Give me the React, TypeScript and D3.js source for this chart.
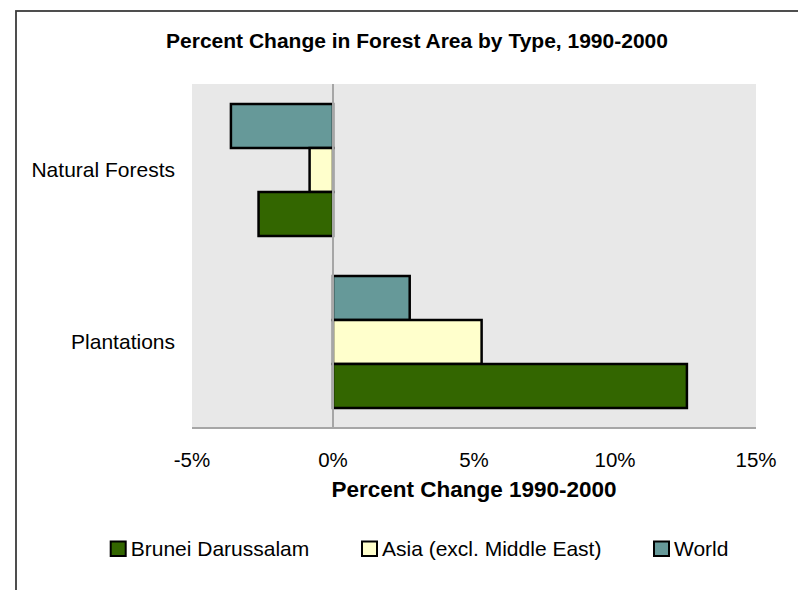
import React from "react";
import { scaleBand, scaleLinear } from "d3";

// Datos del gráfico
const categories = ["Natural Forests", "Plantations"];
const seriesNames = ["Brunei Darussalam", "Asia (excl. Middle East)", "World"];
const seriesColors = ["#336600", "#FFFFCC", "#669999"];
const bruneiValues = [-2.64, 12.55];
const asiaValues = [-0.83, 5.27];
const worldValues = [-3.62, 2.72];
const tickValues = [-5, 0, 5, 10, 15];

const seriesValues = [bruneiValues, asiaValues, worldValues];

const W = 798;
const H = 590;
const plot = { left: 192, right: 756, top: 84, bottom: 428 };
const font = "Arial, 'Liberation Sans', sans-serif";

const App: React.FC = () => {
  // Escalas
  const xScale = scaleLinear<number>().domain([-5, 15]).range([plot.left, plot.right]);

  const gap = 40 / 172;
  const yScale = scaleBand<string>()
    .domain(categories)
    .range([plot.top, plot.bottom])
    .paddingInner(gap)
    .paddingOuter(gap / 2);

  // World arriba, Brunei abajo
  const drawOrder = [2, 1, 0];
  const inner = scaleBand<number>()
    .domain(drawOrder)
    .range([0, yScale.bandwidth()]);

  const x0 = xScale(0);
  const legendX = [110.7, 362, 654];

  return (
    <svg
      width={W}
      height={H}
      style={{ position: "absolute", left: 0, top: 0, display: "block" }}
      fontFamily={font}
    >
      <rect x={0} y={0} width={W} height={H} fill="#fff" />
      {/* Borde del gráfico */}
      <rect x={16} y={11} width={820} height={620} fill="none" stroke="#3c3c3c" strokeWidth={1.8} />

      {/* Título */}
      <text x={417} y={48} textAnchor="middle" fontWeight="bold" fontSize={21}>
        Percent Change in Forest Area by Type, 1990-2000
      </text>

      {/* Área del gráfico */}
      <rect
        x={plot.left}
        y={plot.top}
        width={plot.right - plot.left}
        height={plot.bottom - plot.top}
        fill="#E8E8E8"
      />

      {/* Barras */}
      {categories.map((cat, ci) =>
        drawOrder.map((si) => {
          const v = seriesValues[si][ci];
          const xv = xScale(v);
          return (
            <rect
              key={`${cat}-${si}`}
              x={Math.min(x0, xv)}
              y={(yScale(cat) ?? 0) + (inner(si) ?? 0)}
              width={Math.abs(xv - x0)}
              height={inner.bandwidth()}
              fill={seriesColors[si]}
              stroke="#000"
              strokeWidth={2.5}
            />
          );
        })
      )}

      {/* Ejes */}
      <line x1={x0} x2={x0} y1={plot.top} y2={plot.bottom} stroke="#A6A6A6" strokeWidth={2} />
      <line x1={plot.left} x2={plot.right} y1={plot.bottom} y2={plot.bottom} stroke="#A6A6A6" strokeWidth={2} />

      {tickValues.map((t) => (
        <text key={t} x={xScale(t)} y={467} textAnchor="middle" fontSize={20.5}>
          {`${t}%`}
        </text>
      ))}

      <text x={(plot.left + plot.right) / 2} y={497} textAnchor="middle" fontWeight="bold" fontSize={22.5}>
        Percent Change 1990-2000
      </text>

      {categories.map((cat) => (
        <text
          key={cat}
          x={175}
          y={(yScale(cat) ?? 0) + yScale.bandwidth() / 2}
          dy="0.35em"
          textAnchor="end"
          fontSize={21}
        >
          {cat}
        </text>
      ))}

      {/* Leyenda */}
      {seriesNames.map((name, i) => (
        <g key={name} transform={`translate(${legendX[i]},0)`}>
          <rect x={0} y={541.5} width={15} height={14.5} fill={seriesColors[i]} stroke="#000" strokeWidth={2} />
          <text x={20} y={556} fontSize={21}>
            {name}
          </text>
        </g>
      ))}
    </svg>
  );
};

export default App;
